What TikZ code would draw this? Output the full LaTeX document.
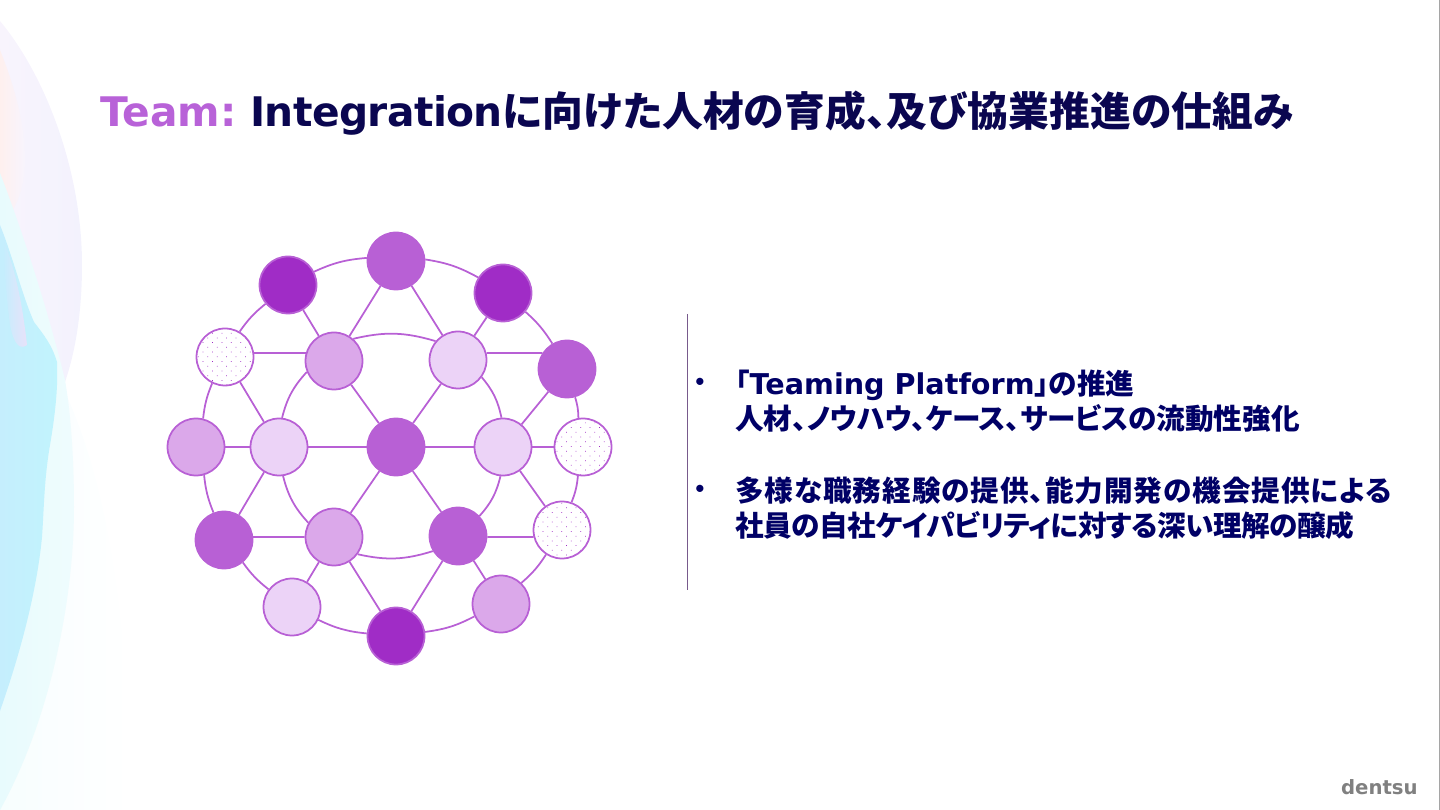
\documentclass[tikz,border=0pt]{standalone}
\usepackage{fontspec}
\setmainfont{DejaVu Sans}
\newfontfamily\jafont{Noto Sans CJK JP}[RawFeature=+palt]
\newcommand{\ja}[1]{{\jafont #1}}
\newcommand{\jaw}[2]{{\jafont\addfontfeature{LetterSpace=#1}#2}}
\usetikzlibrary{patterns.meta}
\definecolor{teamviolet}{RGB}{184,98,216}
\definecolor{nodedark}{RGB}{160,44,198}
\definecolor{nodemid}{RGB}{184,96,213}
\definecolor{nodesoft}{RGB}{219,168,234}
\definecolor{nodepale}{RGB}{236,211,247}
\definecolor{titlenavy}{RGB}{10,6,80}
\definecolor{textnavy}{RGB}{0,0,102}
\definecolor{rulegray}{RGB}{120,90,140}
\definecolor{logogray}{RGB}{128,128,128}
\definecolor{edgegray}{RGB}{165,165,165}
\definecolor{washcyan}{RGB}{193,244,253}
\definecolor{washblue}{RGB}{197,238,253}
\definecolor{washpale}{RGB}{232,251,253}
\definecolor{washlilac}{RGB}{248,244,253}
\definecolor{washmauve}{RGB}{243,242,253}
\definecolor{washpeach}{RGB}{254,240,238}
\definecolor{washpink}{RGB}{232,226,250}

\begin{document}
\begin{tikzpicture}[
  x=0.02cm, y=-0.02cm,
  disc/.style={
    circle, draw=nodemid, line width=1pt,
    minimum size=1.14cm, inner sep=0pt
  },
  darknode/.style={disc, fill=nodedark},
  midnode/.style={disc, fill=nodemid},
  softnode/.style={disc, fill=nodesoft},
  palenode/.style={disc, fill=nodepale},
  dotnode/.style={disc, pattern={Dots[distance=3.8pt,angle=45,radius=0.3pt]}, pattern color=nodedark},
  link/.style={draw=nodemid, line width=1pt},
  titletext/.style={anchor=base west, inner sep=0pt, font=\fontsize{23.2}{28}\selectfont\bfseries},
  bodytext/.style={anchor=base west, inner sep=0pt, text=textnavy, font=\fontsize{16.3}{20.4}\selectfont\bfseries},
  bullettext/.style={inner sep=0pt, text=textnavy, font=\fontsize{11.7}{14}\selectfont\bfseries}
]
\useasboundingbox (0,0) rectangle (1440,810);

%% Fond a gauche
\begin{scope}
  \clip (0,0) rectangle (1440,810);
  \shade[left color=washpale!35, right color=white]
    (0,300) .. controls (90,380) and (130,560) .. (130,810) -- (0,810) -- cycle;
  \shade[left color=washlilac, right color=washmauve]
    (0,21) .. controls (45,75) and (82,170) .. (82,265)
    .. controls (82,310) and (76,350) .. (65,382) -- (0,420) -- cycle;
  \shade[left color=washpeach, right color=washlilac]
    (0,50) .. controls (12,80) and (25,120) .. (25,160)
    .. controls (25,190) and (15,210) .. (0,230) -- cycle;
  \shade[left color=washpale, right color=washpale!70]
    (0,173) .. controls (22,230) and (48,310) .. (65,380)
    .. controls (72,420) and (74,470) .. (74,507)
    .. controls (74,600) and (50,720) .. (0,810) -- cycle;
  \shade[left color=washblue, right color=washcyan]
    (0,225) .. controls (14,260) and (22,295) .. (34,322)
    .. controls (44,335) and (52,345) .. (57,362)
    .. controls (58,385) and (56,410) .. (50,445)
    .. controls (44,480) and (44,510) .. (42,537)
    .. controls (38,580) and (25,640) .. (0,711) -- cycle;
  \shade[left color=washblue, right color=washpink]
    (3,240) .. controls (14,265) and (22,300) .. (27,345)
    .. controls (20,350) and (14,345) .. (10,325)
    .. controls (6,295) and (4,265) .. (3,240) -- cycle;
\end{scope}

%% Anneau exterieur
\node[midnode]  (TOP) at (396,261) {};
\node[darknode] (B)   at (503,293) {};
\node[midnode]  (F)   at (567,369) {};
\node[dotnode]  (K)   at (583,447) {};
\node[dotnode]  (O)   at (562,530) {};
\node[softnode] (R)   at (501,604) {};
\node[darknode] (Q)   at (396,636) {};
\node[palenode] (P)   at (292,607) {};
\node[midnode]  (L)   at (224,540) {};
\node[softnode] (G)   at (196,447) {};
\node[dotnode]  (C)   at (225,357) {};
\node[darknode] (A)   at (288,285) {};

%% Anneau interieur
\node[softnode] (D) at (334,361) {};
\node[palenode] (E) at (458,360) {};
\node[palenode] (J) at (503,447) {};
\node[midnode]  (N) at (458,536) {};
\node[softnode] (M) at (334,537) {};
\node[palenode] (H) at (279,447) {};

%% Centre
\node[midnode] (I) at (396,447) {};

%% Arcs exterieurs
\draw[link] (A.27)   to[bend left=10] (TOP.174);
\draw[link] (TOP.3)  to[bend left=10] (B.148);
\draw[link] (B.-40)  to[bend left=8]  (F.120);
\draw[link] (F.-74)  to[bend left=8]  (K.99);
\draw[link] (K.-100) to[bend left=8]  (O.71);
\draw[link] (O.-123) to[bend left=8]  (R.46);
\draw[link] (R.205)  to[bend left=10] (Q.8);
\draw[link] (Q.175)  to[bend left=10] (P.-26);
\draw[link] (P.143)  to[bend left=8]  (L.-50);
\draw[link] (L.111)  to[bend left=8]  (G.-74);
\draw[link] (G.76)   to[bend left=8]  (C.-116);
\draw[link] (C.60)   to[bend left=8]  (A.220);

%% Arcs interieurs
\draw[link] (D.49)   to[bend left=15] (E.140);
\draw[link] (E.-36)  to[bend left=14] (J.93);
\draw[link] (J.-95)  to[bend left=14] (N.43);
\draw[link] (N.-149) to[bend left=15] (M.-36);
\draw[link] (M.151)  to[bend left=14] (H.-82);
\draw[link] (H.84)   to[bend left=14] (D.-158);

%% Rayons
\draw[link] (TOP) -- (D);
\draw[link] (TOP) -- (E);
\draw[link] (A) -- (D);
\draw[link] (B) -- (E);
\draw[link] (C) -- (H);
\draw[link] (F) -- (J);
\draw[link] (H) -- (L);
\draw[link] (J) -- (O);
\draw[link] (M) -- (P);
\draw[link] (M) -- (Q);
\draw[link] (N) -- (Q);
\draw[link] (N) -- (R);
\draw[link] (D) -- (I);
\draw[link] (E) -- (I);
\draw[link] (M) -- (I);
\draw[link] (N) -- (I);

%% Horizontales
\draw[link] (C.8)  -- (D.164);
\draw[link] (E.14) -- (F.147);
\draw[link] (G) -- (H);
\draw[link] (H) -- (I);
\draw[link] (I) -- (J);
\draw[link] (J) -- (K);
\draw[link] (L.6)  -- (M.180);
\draw[link] (N.-2) -- (O.194);

%% Titre
\node[titletext, text=teamviolet] (TEAM) at (100,127) {Team:};
\node[titletext, text=titlenavy] (HEAD) at (250,127)
  {\addfontfeature{LetterSpace=-1.5}Integration\jaw{0.5}{に向けた人材の育成、及び協業推進の仕組み}};

%% Filet et texte
\coordinate (RULEA) at (687,314);
\coordinate (RULEB) at (687,590);
\draw[rulegray, line width=0.5pt] (RULEA) -- (RULEB);

\node[bullettext] (DOTA) at (700,384) {•};
\node[bodytext, align=left] (ITEMA) at (735,430)
  {\ja{「}Teaming Platform\ja{」の推進}\\
   \ja{人材、ノウハウ、ケース、サービスの流動性強化}};
\node[bullettext] (DOTB) at (700,491) {•};
\node[bodytext, align=left] (ITEMB) at (735,537)
  {\jaw{3.2}{多様な職務経験の提供、能力開発の機会提供による}\\
   \jaw{-1.7}{社員の自社ケイパビリティに対する深い理解の醸成}};

\node[anchor=base east, inner sep=0pt, text=logogray, font=\fontsize{11.2}{13}\selectfont\bfseries] (LOGO) at (1418,794) {dentsu};

%% Bord droit
\coordinate (EDGEA) at (1439.5,0);
\coordinate (EDGEB) at (1439.5,810);
\draw[edgegray, line width=0.55pt] (EDGEA) -- (EDGEB);
\end{tikzpicture}
\end{document}
